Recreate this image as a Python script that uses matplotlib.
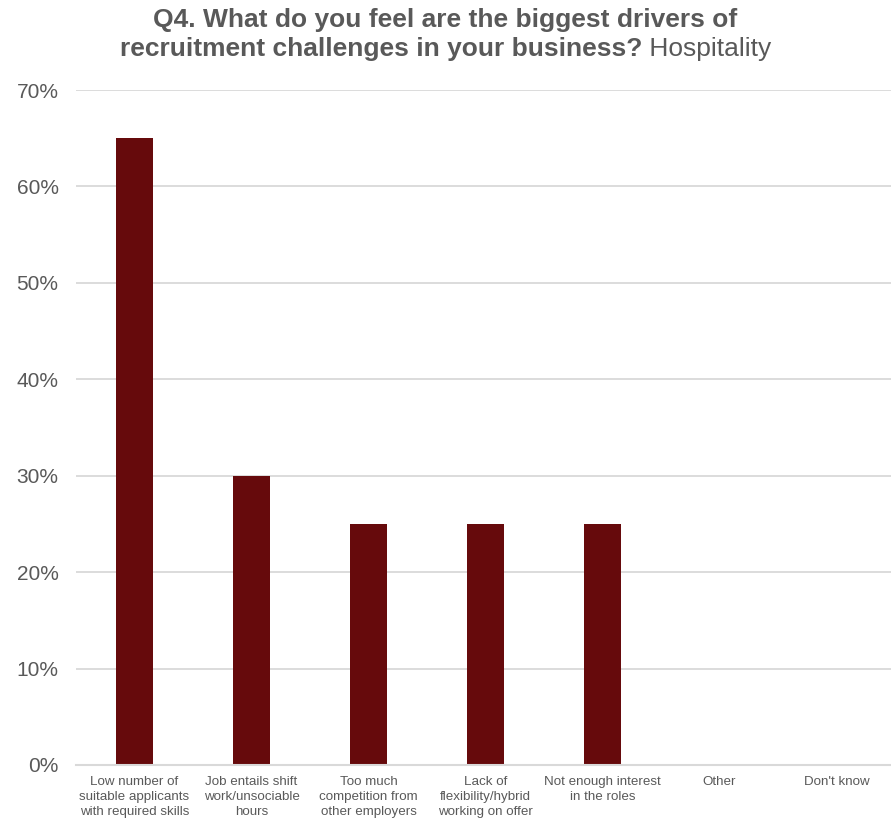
import matplotlib
matplotlib.use("Agg")
import matplotlib.pyplot as plt
from matplotlib.ticker import FuncFormatter, MultipleLocator

plt.rcParams['font.family'] = ['Liberation Sans', 'DejaVu Sans']

categories = [
    "Low number of\nsuitable applicants\nwith required skills",
    "Job entails shift\nwork/unsociable\nhours",
    "Too much\ncompetition from\nother employers",
    "Lack of\nflexibility/hybrid\nworking on offer",
    "Not enough interest\nin the roles",
    "Other",
    "Don't know",
]
values = [65, 30, 25, 25, 25, 0, 0]

TEXT = "#595959"
BAR = "#660A0C"
GRID = "#D9D9D9"

W, H = 891, 818
fig = plt.figure(figsize=(W / 100, H / 100), dpi=100)
ax = fig.add_axes([76 / W, 1 - 765 / H, 819 / W, 675 / H])

x = range(len(categories))
ax.bar(x, values, width=0.316, color=BAR, zorder=3)

ax.set_xlim(-0.5, len(categories) - 0.5)
ax.set_ylim(0, 70)
ax.yaxis.set_major_locator(MultipleLocator(10))
ax.yaxis.set_major_formatter(FuncFormatter(lambda v, p: f"{v:.0f}%"))
ax.grid(axis='y', color=GRID, linewidth=1.3, zorder=0)
ax.set_axisbelow(True)
for s in ['top', 'right', 'left']:
    ax.spines[s].set_visible(False)
ax.spines['bottom'].set_color(GRID)
ax.spines['bottom'].set_linewidth(1.5)
ax.spines['bottom'].set_zorder(4)

ax.set_xticks(list(x))
ax.set_xticklabels(categories, fontsize=9.6, color=TEXT, linespacing=1.3)
ax.tick_params(axis='x', length=0, pad=8)
ax.tick_params(axis='y', length=0, pad=12.5, labelsize=15, labelcolor=TEXT)

# Title: bold question with a regular-weight sector name at the end
cx = 0.5
TS = 19
t1 = fig.text(cx, 1 - 20 / H, "Q4. What do you feel are the biggest drivers of",
              ha='center', va='center', fontsize=TS, fontweight='bold', color=TEXT)
t2a = fig.text(0, 1 - 49 / H, "recruitment challenges in your business?",
               ha='left', va='center', fontsize=TS, fontweight='bold', color=TEXT)
t2b = fig.text(0, 1 - 49 / H, " Hospitality",
               ha='left', va='center', fontsize=TS, color=TEXT)
fig.canvas.draw()
r = fig.canvas.get_renderer()
wa = t2a.get_window_extent(r).width
wb = t2b.get_window_extent(r).width
start = (cx * W - (wa + wb) / 2)
t2a.set_x(start / W)
t2b.set_x((start + wa) / W)

fig.savefig("out.png", dpi=100)
